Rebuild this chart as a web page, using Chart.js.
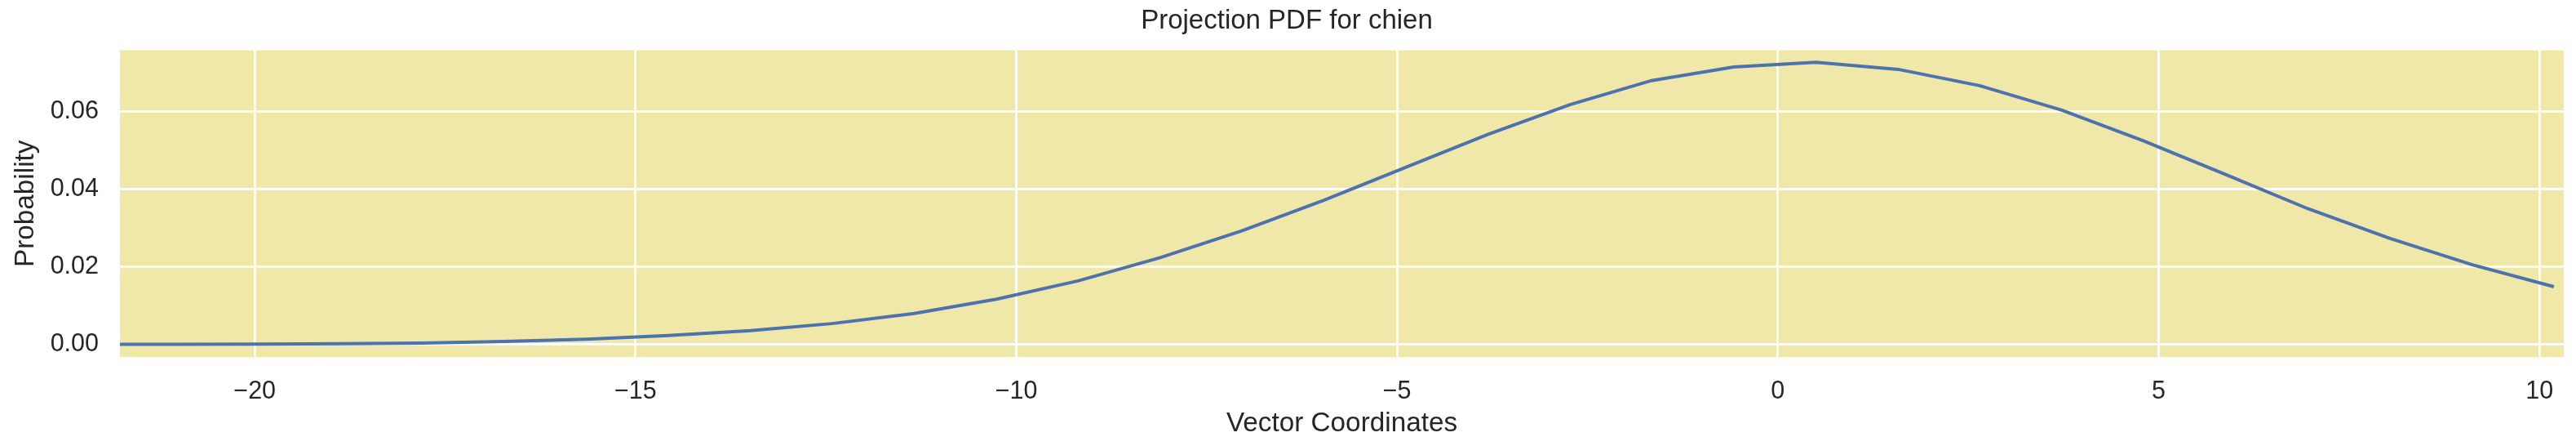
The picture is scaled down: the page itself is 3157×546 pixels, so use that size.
<!DOCTYPE html>
<html>
<head>
<meta charset="utf-8">
<script src="https://cdn.jsdelivr.net/npm/chart.js@4/dist/chart.umd.min.js"></script>
<style>
html,body{margin:0;padding:0;background:#fff;}
#wrap{width:3157px;height:546px;position:relative;}
</style>
</head>
<body>
<div id="wrap"><canvas id="c" width="3157" height="546"></canvas></div>
<script>
const xCoords = [-22.10, -21.02, -19.95, -18.87, -17.80, -16.72, -15.64, -14.57, -13.49, -12.42, -11.34, -10.26, -9.19, -8.11, -7.04, -5.96, -4.88, -3.81, -2.73, -1.66, -0.58, 0.50, 1.58, 2.65, 3.73, 4.80, 5.88, 6.96, 8.03, 9.11, 10.19];
const probability = [0.00003, 0.00005, 0.0001, 0.0002, 0.0004, 0.0008, 0.0014, 0.0023, 0.0036, 0.0054, 0.0080, 0.0117, 0.0164, 0.0224, 0.0293, 0.0372, 0.0457, 0.0541, 0.0618, 0.0680, 0.0715, 0.0727, 0.0709, 0.0667, 0.0604, 0.0525, 0.0438, 0.0350, 0.0274, 0.0206, 0.0149];
const xTicks = [-20, -15, -10, -5, 0, 5, 10];
const yTicks = [0.00, 0.02, 0.04, 0.06];

const textColor = '#262626';
const font = 'Liberation Sans, Arial, Helvetica, sans-serif';

const bgPlugin = {
  id: 'plotBg',
  beforeDraw(chart) {
    const a = chart.chartArea, ctx = chart.ctx;
    ctx.save();
    ctx.fillStyle = '#EFE8A8';
    ctx.fillRect(a.left, a.top, a.right - a.left, a.bottom - a.top);
    ctx.restore();
  }
};

new Chart(document.getElementById('c'), {
  type: 'line',
  data: {
    datasets: [{
      data: xCoords.map((x, i) => ({x: x, y: probability[i]})),
      borderColor: '#4C72B0',
      borderWidth: 4,
      pointRadius: 0,
      tension: 0,
      fill: false
    }]
  },
  options: {
    responsive: false,
    animation: false,
    events: [],
    layout: {padding: {left: 12, right: 15, top: 0, bottom: 7}},
    plugins: {
      legend: {display: false},
      tooltip: {enabled: false},
      title: {
        display: true,
        text: 'Projection PDF for chien',
        color: textColor,
        font: {family: font, size: 33, weight: 'normal', lineHeight: 1.2},
        padding: {top: 6, bottom: 16}
      }
    },
    scales: {
      x: {
        type: 'linear',
        min: -21.77,
        max: 10.32,
        afterBuildTicks: s => { s.ticks = xTicks.map(v => ({value: v})); },
        afterFit: s => { s.height = 102; },
        grid: {color: '#ffffff', lineWidth: 2.8, drawTicks: false},
        border: {display: false},
        ticks: {
          color: textColor,
          font: {family: font, size: 30.5},
          padding: 24,
          maxRotation: 0,
          callback: v => (v < 0 ? '\u2212' + Math.abs(v) : String(v))
        },
        title: {
          display: true,
          text: 'Vector Coordinates',
          color: textColor,
          font: {family: font, size: 33.3, lineHeight: 1.2},
          padding: 0
        }
      },
      y: {
        type: 'linear',
        min: -0.0032,
        max: 0.0758,
        afterBuildTicks: s => { s.ticks = yTicks.map(v => ({value: v})); },
        afterFit: s => { s.width = 135; },
        grid: {color: '#ffffff', lineWidth: 2.8, drawTicks: false},
        border: {display: false},
        ticks: {
          color: textColor,
          font: {family: font, size: 30.5},
          padding: 26,
          callback: v => v.toFixed(2)
        },
        title: {
          display: true,
          text: 'Probability',
          color: textColor,
          font: {family: font, size: 33.3, lineHeight: 1.2},
          padding: 0
        }
      }
    }
  },
  plugins: [bgPlugin]
});
</script>
</body>
</html>
